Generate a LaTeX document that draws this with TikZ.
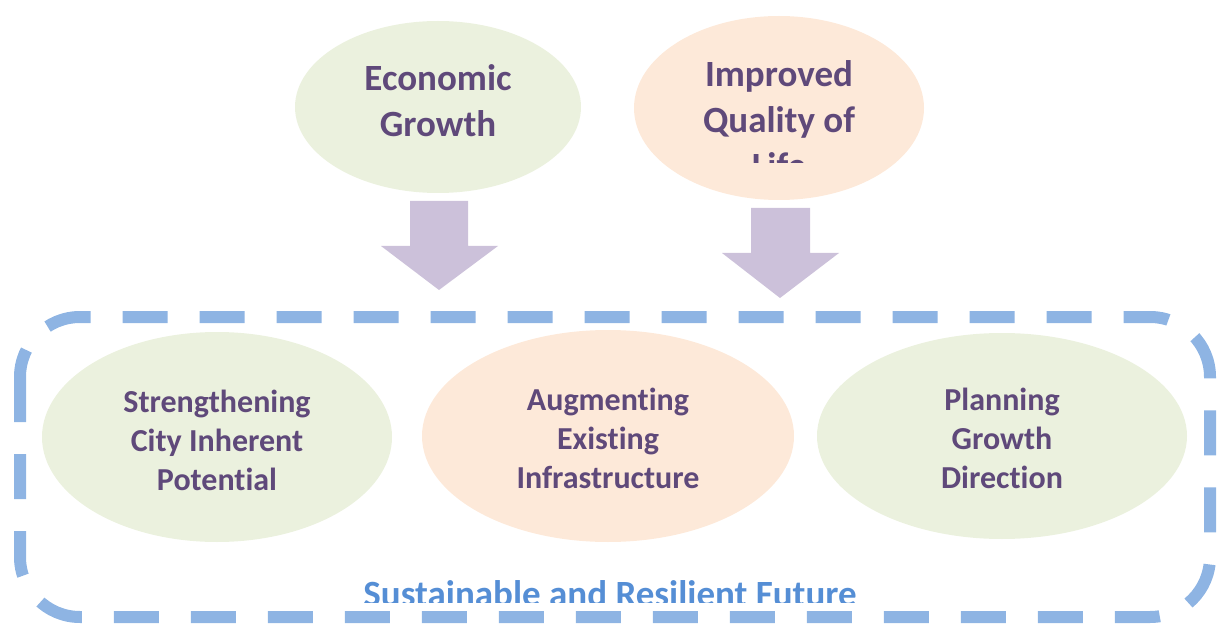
\documentclass[tikz,border=0pt]{standalone}
\usepackage{fontspec}
\setmainfont{Carlito}[Ligatures={NoCommon}]
\definecolor{greenfill}{HTML}{EBF1DE}
\definecolor{orangefill}{HTML}{FDE9D9}
\definecolor{arrowfill}{HTML}{CCC1DA}
\definecolor{txtpurple}{HTML}{5F497A}
\definecolor{dashblue}{HTML}{8EB4E3}
\definecolor{txtblue}{HTML}{558ED5}
\tikzset{
  topfont/.style={font=\fontsize{37}{46}\selectfont\bfseries, text=txtpurple, align=center},
  botfont/.style={font=\fontsize{32}{39}\selectfont\bfseries, text=txtpurple, align=center},
  blockarrow/.style={fill=arrowfill, draw=none},
}
\begin{document}
\begin{tikzpicture}[x=1pt,y=-1pt]
\useasboundingbox (0,0) rectangle (1221,631);
% top ellipses
\fill[greenfill] (438,107) ellipse [x radius=143, y radius=86];
\fill[orangefill] (779,108) ellipse [x radius=145, y radius=92];
\node[topfont] (econ) at (438,101) {Economic\\Growth};
\begin{scope}
\clip (600,0) rectangle (960,163);
\node[topfont] (qol) at (779,120) {Improved\\Quality of\\Life};
\end{scope}
% block arrows
\fill[blockarrow] (410,201) -- (468,201) -- (468,246) -- (498,246) -- (439,290) -- (381,246) -- (410,246) -- cycle;
\fill[blockarrow] (751,208) -- (810,208) -- (810,253) -- (839,253) -- (780,298) -- (722,253) -- (751,253) -- cycle;
% bottom ellipses
\fill[greenfill] (217,437) ellipse [x radius=175, y radius=105];
\fill[orangefill] (608,436) ellipse [x radius=186, y radius=106];
\fill[greenfill] (1002,436) ellipse [x radius=185, y radius=103];
\node[botfont] (s1) at (217,440) {Strengthening\\City Inherent\\Potential};
\node[botfont] (s2) at (608,438) {Augmenting\\Existing\\Infrastructure};
\node[botfont] (s3) at (1002,438) {Planning\\Growth\\Direction};
% dashed frame
\draw[dashblue, line width=12pt, dash pattern=on 45pt off 32pt, rounded corners=60pt]
  (20,317) rectangle (1210,617);
\begin{scope}
\clip (300,560) rectangle (920,602);
\node[font=\fontsize{37}{44}\selectfont\bfseries, text=txtblue, anchor=base] (future) at (610,606) {Sustainable and Resilient Future};
\end{scope}
\end{tikzpicture}
\end{document}
